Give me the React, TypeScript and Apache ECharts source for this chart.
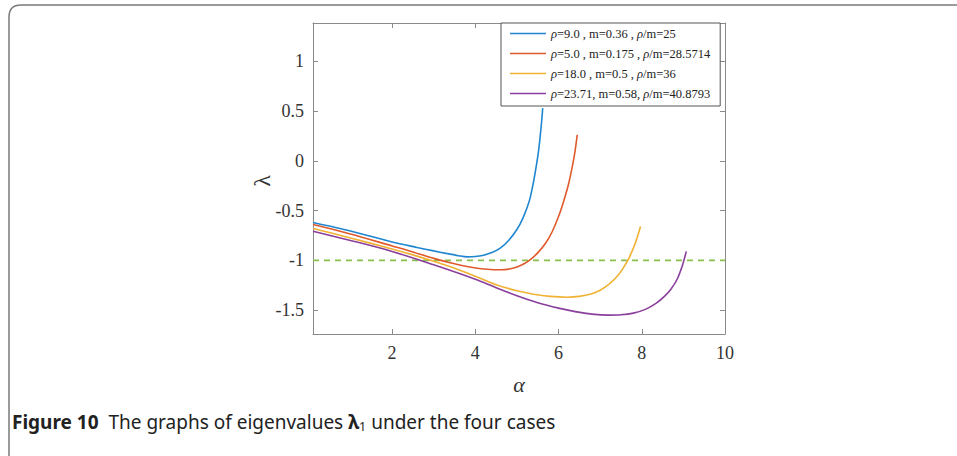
import React, { useEffect, useRef } from "react";
import * as echarts from "echarts";

// alpha values and lambda_1 values for each parameter set
const blueX = [0.1, 1.0, 2.0, 2.6, 3.0, 3.3, 3.6, 3.8, 4.0, 4.2, 4.4, 4.6, 4.8, 5.0, 5.15, 5.3, 5.4, 5.47, 5.52, 5.56, 5.595, 5.62];
const blueY = [-0.62, -0.705, -0.815, -0.87, -0.905, -0.93, -0.953, -0.965, -0.962, -0.948, -0.922, -0.878, -0.8, -0.69, -0.57, -0.4, -0.21, -0.04, 0.1, 0.25, 0.4, 0.53];

const orangeX = [0.1, 1.0, 2.0, 2.5, 3.0, 3.5, 3.9, 4.2, 4.5, 4.7, 4.9, 5.1, 5.3, 5.5, 5.7, 5.85, 6.0, 6.12, 6.23, 6.32, 6.39, 6.45];
const orangeY = [-0.64, -0.735, -0.855, -0.915, -0.98, -1.035, -1.07, -1.087, -1.095, -1.093, -1.08, -1.05, -1.0, -0.925, -0.82, -0.71, -0.56, -0.41, -0.25, -0.08, 0.08, 0.26];

const yellowX = [0.1, 1.0, 2.0, 2.5, 3.0, 3.5, 4.0, 4.5, 5.0, 5.4, 5.8, 6.2, 6.5, 6.8, 7.0, 7.2, 7.4, 7.55, 7.7, 7.85, 7.97];
const yellowY = [-0.68, -0.775, -0.885, -0.945, -1.01, -1.08, -1.16, -1.245, -1.305, -1.34, -1.362, -1.37, -1.362, -1.335, -1.3, -1.245, -1.165, -1.08, -0.97, -0.82, -0.66];

const purpleX = [0.1, 1.0, 2.0, 3.0, 4.0, 4.5, 5.0, 5.5, 6.0, 6.4, 6.8, 7.2, 7.5, 7.8, 8.1, 8.35, 8.55, 8.7, 8.85, 8.97, 9.07];
const purpleY = [-0.707, -0.8, -0.91, -1.045, -1.19, -1.275, -1.355, -1.425, -1.48, -1.515, -1.54, -1.55, -1.547, -1.53, -1.49, -1.43, -1.36, -1.29, -1.19, -1.06, -0.91];

// reference level lambda = -1
const refX = [0.1, 10];
const refY = [-1, -1];

const seriesNames = ["case1", "case2", "case3", "case4"];
const legendLabels = [
  "{i|ρ}=9.0 , m=0.36 , {i|ρ}/m=25",
  "{i|ρ}=5.0 , m=0.175 , {i|ρ}/m=28.5714",
  "{i|ρ}=18.0 , m=0.5 , {i|ρ}/m=36",
  "{i|ρ}=23.71, m=0.58, {i|ρ}/m=40.8793",
];
const seriesColors = ["#1f86cf", "#e05a2b", "#f0b232", "#8a3f9c"];

const xTicks = [2, 4, 6, 8, 10];
const yTicks = [-1.5, -1, -0.5, 0, 0.5, 1];

const zip = (xs: number[], ys: number[]) => xs.map((x, i) => [x, ys[i]]);

const SERIF = "'Liberation Serif', 'DejaVu Serif', serif";
const SANS = "'Noto Sans', 'Open Sans', sans-serif";

echarts.graphic.registerShape(
  "cardFrame",
  echarts.graphic.extendPath("M 21 470 Q 9 470 9 458 L 9 17 Q 9 5 21 5 L 957 5", {})
);

export default function App() {
  const ref = useRef<HTMLDivElement>(null);

  useEffect(() => {
    if (!ref.current) return;
    const chart = echarts.init(ref.current, undefined, { renderer: "svg" });

    const axisLine = { show: true, onZero: false, lineStyle: { color: "#8a8a8a", width: 1 } };
    const tick = (values: number[]) => ({
      show: true,
      inside: true,
      length: 5,
      customValues: values,
      lineStyle: { color: "#8a8a8a", width: 1 },
    });
    const tickLabel = {
      fontFamily: SERIF,
      fontSize: 18,
      color: "#333",
    };

    const data = [
      zip(blueX, blueY),
      zip(orangeX, orangeY),
      zip(yellowX, yellowY),
      zip(purpleX, purpleY),
    ];

    chart.setOption({
      animation: false,
      backgroundColor: "#fff",
      grid: { left: 313, top: 23, right: 232, bottom: 122, containLabel: false },
      xAxis: [
        {
          type: "value",
          position: "bottom",
          min: 0.1,
          max: 10,
          axisLine,
          axisTick: tick(xTicks),
          axisLabel: { ...tickLabel, margin: 10, customValues: xTicks },
          splitLine: { show: false },
        },
        {
          type: "value",
          position: "top",
          min: 0.1,
          max: 10,
          axisLine,
          axisTick: tick(xTicks),
          axisLabel: { show: false },
          splitLine: { show: false },
        },
      ],
      yAxis: [
        {
          type: "value",
          position: "left",
          min: -1.74,
          max: 1.385,
          axisLine,
          axisTick: tick(yTicks),
          axisLabel: { ...tickLabel, margin: 9, customValues: yTicks },
          splitLine: { show: false },
        },
        {
          type: "value",
          position: "right",
          min: -1.74,
          max: 1.385,
          axisLine,
          axisTick: tick(yTicks),
          axisLabel: { show: false },
          splitLine: { show: false },
        },
      ],
      legend: {
        data: seriesNames,
        orient: "vertical",
        left: 501,
        top: 23,
        padding: [4, 10, 6, 9],
        itemGap: 7,
        itemWidth: 36,
        itemHeight: 1.6,
        icon: "rect",
        backgroundColor: "#fff",
        borderColor: "#555",
        borderWidth: 1,
        borderRadius: 0,
        formatter: (name: string) => legendLabels[seriesNames.indexOf(name)],
        textStyle: {
          fontFamily: SERIF,
          fontSize: 12.5,
          lineHeight: 13,
          color: "#222",
          rich: {
            i: { fontFamily: SERIF, fontSize: 12.5, fontStyle: "italic", color: "#222" },
          },
        },
      },
      series: [
        ...data.map((d, i) => ({
          name: seriesNames[i],
          type: "line",
          data: d,
          smooth: 0.3,
          symbol: "none",
          showSymbol: false,
          color: seriesColors[i],
          lineStyle: { color: seriesColors[i], width: 1.6 },
          z: 3,
        })),
        {
          name: "ref",
          type: "line",
          data: zip(refX, refY),
          symbol: "none",
          showSymbol: false,
          lineStyle: { color: "#88bf4d", width: 1.6, type: [6, 5] },
          z: 2,
        },
      ],
      graphic: [
        {
          type: "cardFrame",
          x: 0,
          y: 0,
          silent: true,
          style: { fill: "none", stroke: "#7a7a7a", lineWidth: 1.5 },
        },
        {
          type: "text",
          x: 519,
          y: 384,
          silent: true,
          style: {
            text: "α",
            fontFamily: SERIF,
            fontStyle: "italic",
            fontSize: 22,
            fill: "#333",
            align: "center",
            verticalAlign: "middle",
          },
        },
        {
          type: "text",
          x: 262,
          y: 181,
          rotation: Math.PI / 2,
          silent: true,
          style: {
            text: "λ",
            fontFamily: SERIF,
            fontSize: 24,
            fill: "#333",
            align: "center",
            verticalAlign: "middle",
          },
        },
        {
          type: "text",
          left: 12,
          top: 412,
          silent: true,
          style: {
            text: "{b|Figure 10}  The graphs of eigenvalues {l|λ}{s|1} under the four cases",
            fontFamily: SANS,
            fontSize: 19,
            fill: "#222",
            rich: {
              b: { fontFamily: SANS, fontSize: 19, fontWeight: "bold", fill: "#222" },
              l: { fontFamily: SANS, fontSize: 19, fontWeight: "bold", fill: "#222" },
              s: { fontFamily: SANS, fontSize: 12.5, fill: "#222", padding: [9, 0, 0, 0] },
            },
          },
        },
      ],
    });

    return () => chart.dispose();
  }, []);

  return (
    <div
      ref={ref}
      style={{ position: "fixed", left: 0, top: 0, width: 957, height: 456 }}
    />
  );
}
